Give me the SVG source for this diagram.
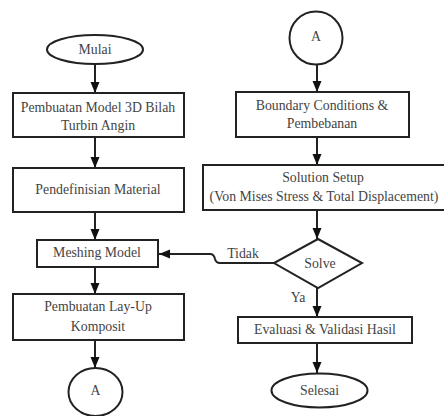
<svg xmlns="http://www.w3.org/2000/svg" width="444" height="416" viewBox="0 0 444 416">
<defs>
<style>
.s{fill:#fff;stroke:#222;stroke-width:2}
.t{font-family:'Liberation Serif','Times New Roman','DejaVu Serif',serif;font-size:13.8px;fill:#444;text-anchor:middle}
.c{fill:none;stroke:#222;stroke-width:2}
</style>
<marker id="ah" markerUnits="userSpaceOnUse" markerWidth="12" markerHeight="12" viewBox="0 0 12 12" refX="11" refY="6" orient="auto">
<path d="M0,1.5 L11,6 L0,10.5 Z" fill="#111"/>
</marker>
</defs>
<rect width="444" height="416" fill="#fff"/>
<g id="connectors">
<line class="c" x1="95" y1="64" x2="95" y2="93" marker-end="url(#ah)"/>
<line class="c" x1="95" y1="137" x2="95" y2="168" marker-end="url(#ah)"/>
<line class="c" x1="95" y1="212" x2="95" y2="240" marker-end="url(#ah)"/>
<line class="c" x1="95" y1="267" x2="95" y2="294" marker-end="url(#ah)"/>
<line class="c" x1="95" y1="340" x2="95" y2="368" marker-end="url(#ah)"/>
<line class="c" x1="317" y1="64" x2="317" y2="92" marker-end="url(#ah)"/>
<line class="c" x1="317" y1="137" x2="317" y2="165" marker-end="url(#ah)"/>
<line class="c" x1="317" y1="210" x2="317" y2="239" marker-end="url(#ah)"/>
<line class="c" x1="317" y1="288" x2="317" y2="317" marker-end="url(#ah)"/>
<line class="c" x1="317" y1="343" x2="317" y2="373" marker-end="url(#ah)"/>
<path class="c" d="M274,263 L220,263 Q216,263 215,259 Q214,254 210,254 L159,254" marker-end="url(#ah)"/>
<text class="t" x="243" y="258">Tidak</text>
<text class="t" x="298" y="302">Ya</text>
</g>
<g id="mulai"><ellipse class="s" cx="95" cy="49.5" rx="48" ry="14.5"/><text class="t" x="95" y="54">Mulai</text></g>
<g id="model3d"><rect class="s" x="13" y="93" width="171" height="44"/><text class="t" x="98" y="112">Pembuatan Model 3D Bilah</text><text class="t" x="98" y="130">Turbin Angin</text></g>
<g id="material"><rect class="s" x="13" y="168" width="171" height="44"/><text class="t" x="98" y="194">Pendefinisian Material</text></g>
<g id="meshing"><rect class="s" x="37" y="240" width="121" height="27"/><text class="t" x="97" y="257">Meshing Model</text></g>
<g id="layup"><rect class="s" x="13" y="294" width="171" height="46"/><text class="t" x="98" y="311">Pembuatan Lay-Up</text><text class="t" x="98" y="331">Komposit</text></g>
<g id="connA1"><ellipse class="s" cx="95.5" cy="392" rx="27" ry="24"/><text class="t" x="95.5" y="395">A</text></g>
<g id="connA2"><circle class="s" cx="316" cy="38" r="26.5"/><text class="t" x="316" y="41">A</text></g>
<g id="boundary"><rect class="s" x="236" y="92" width="173" height="45"/><text class="t" x="322" y="110">Boundary Conditions &amp;</text><text class="t" x="322" y="128">Pembebanan</text></g>
<g id="solution"><rect class="s" x="203" y="165" width="245" height="45"/><text class="t" x="323" y="182">Solution Setup</text><text class="t" x="324" y="201">(Von Mises Stress &amp; Total Displacement)</text></g>
<g id="solve"><polygon class="s" points="318,239 362,263 318,288 274,263"/><text class="t" x="320" y="268">Solve</text></g>
<g id="evaluasi"><rect class="s" x="238" y="317" width="174" height="26"/><text class="t" x="325" y="334">Evaluasi &amp; Validasi Hasil</text></g>
<g id="selesai"><ellipse class="s" cx="319.5" cy="390.5" rx="48" ry="17"/><text class="t" x="319.5" y="395">Selesai</text></g>
</svg>
